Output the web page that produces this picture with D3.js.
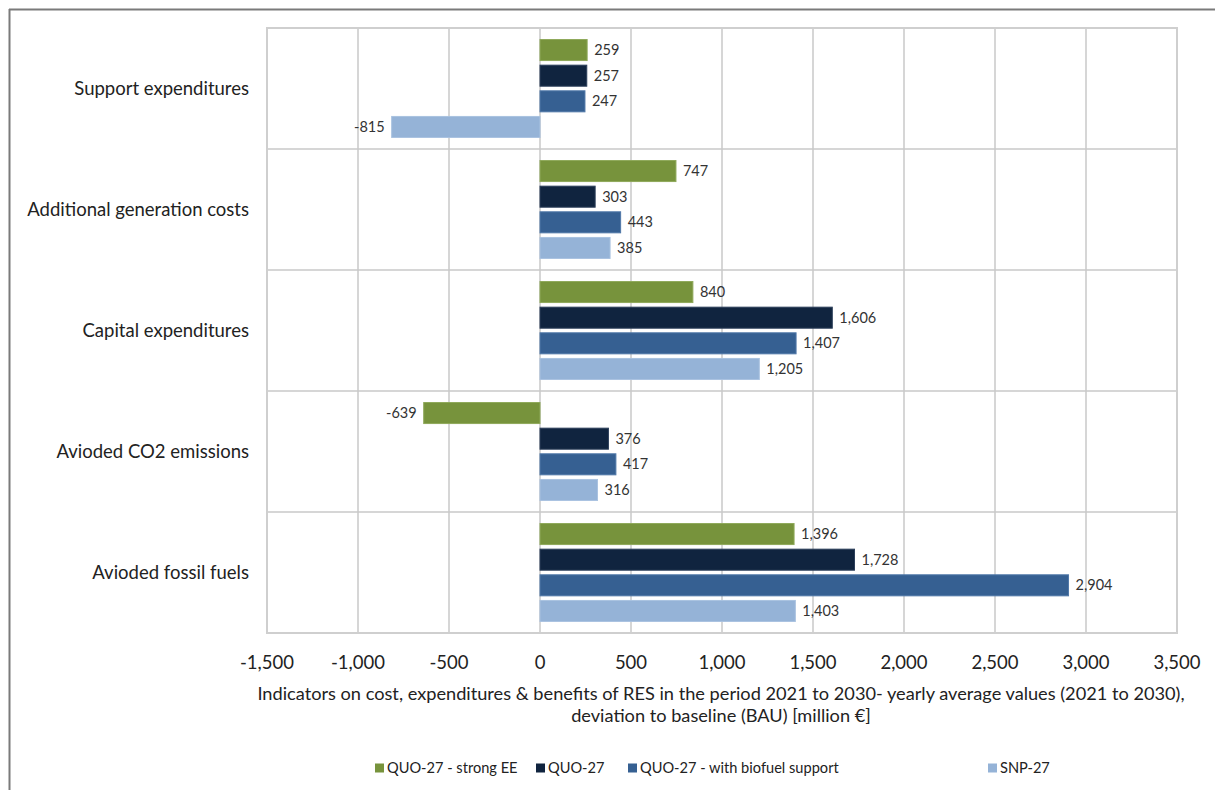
<!DOCTYPE html>
<html>
<head>
<meta charset="utf-8">
<script src="https://cdn.jsdelivr.net/npm/d3@7"></script>
<style>
  html, body { margin: 0; padding: 0; background: #fff; }
  svg { display: block; font-family: Lato, "Open Sans", sans-serif; }
</style>
</head>
<body>
<svg id="chart" width="1215" height="790"></svg>
<script>
// Indicator categories, top to bottom
const categories = [
  "Support expenditures",
  "Additional generation costs",
  "Capital expenditures",
  "Avioded CO2 emissions",
  "Avioded fossil fuels"
];

// Scenario names (legend order)
const seriesNames = [
  "QUO-27 - strong EE",
  "QUO-27",
  "QUO-27 - with biofuel support",
  "SNP-27"
];

// Values per scenario, in category order [million €]
const strongEE   = [259, 747, 840, -639, 1396];
const quo27      = [257, 303, 1606, 376, 1728];
const biofuel    = [247, 443, 1407, 417, 2904];
const snp27      = [-815, 385, 1205, 316, 1403];
const seriesValues = [strongEE, quo27, biofuel, snp27];

const seriesColors = ["#77933C", "#10243F", "#366092", "#95B3D7"];
const seriesStroke = ["#8fa95a", "#2c3f5a", "#5078a8", "#a9c2e0"];

// Axis ticks
const xTicks = [-1500, -1000, -500, 0, 500, 1000, 1500, 2000, 2500, 3000, 3500];

const axisTitle = [
  "Indicators on cost, expenditures & benefits of RES in the period 2021 to 2030- yearly average values (2021 to 2030),",
  "deviation to baseline (BAU) [million €]"
];

const svg = d3.select("#chart");
// thousands separator, plain hyphen for negatives
const fmt = v => d3.format(",")(v).replace("\u2212", "-");

// Outer frame (left and top edges)
svg.append("line").attr("x1", 9.5).attr("x2", 9.5).attr("y1", 9).attr("y2", 790)
  .attr("stroke", "#7a7a7a").attr("stroke-width", 2);
svg.append("line").attr("x1", 9).attr("x2", 1215).attr("y1", 9.5).attr("y2", 9.5)
  .attr("stroke", "#7a7a7a").attr("stroke-width", 2);

const plot = { left: 267, right: 1177, top: 28, bottom: 633 };

const x = d3.scaleLinear().domain([-1500, 3500]).range([plot.left, plot.right]);
const y = d3.scaleBand().domain(categories).range([plot.top, plot.bottom]).padding(0);
const ySub = d3.scaleBand().domain(d3.range(seriesNames.length))
  .range([0, y.bandwidth()]).paddingInner(0.18).paddingOuter(0.45);

const g = svg.append("g");

// Vertical gridlines
g.append("g").selectAll("line").data(xTicks).join("line")
  .attr("x1", d => x(d)).attr("x2", d => x(d))
  .attr("y1", plot.top).attr("y2", plot.bottom)
  .attr("stroke", "#c8c8c8").attr("stroke-width", 1.5);

// Horizontal category separators
g.append("g").selectAll("line").data(categories.slice(1)).join("line")
  .attr("x1", plot.left).attr("x2", plot.right)
  .attr("y1", d => y(d)).attr("y2", d => y(d))
  .attr("stroke", "#c8c8c8").attr("stroke-width", 1.5);

// Plot border
g.append("rect")
  .attr("x", plot.left).attr("y", plot.top)
  .attr("width", plot.right - plot.left).attr("height", plot.bottom - plot.top)
  .attr("fill", "none").attr("stroke", "#cfcfcf").attr("stroke-width", 2);

// Bars and value labels
const rows = [];
seriesValues.forEach((vals, si) => {
  vals.forEach((v, ci) => rows.push({ si, cat: categories[ci], v }));
});

g.append("g").selectAll("rect").data(rows).join("rect")
  .attr("x", d => x(Math.min(0, d.v)))
  .attr("y", d => y(d.cat) + ySub(d.si))
  .attr("width", d => Math.abs(x(d.v) - x(0)))
  .attr("height", ySub.bandwidth())
  .attr("fill", d => seriesColors[d.si])
  .attr("stroke", d => seriesStroke[d.si]).attr("stroke-width", 1);

g.append("g").selectAll("text").data(rows).join("text")
  .attr("x", d => d.v >= 0 ? x(d.v) + 7 : x(d.v) - 7)
  .attr("y", d => y(d.cat) + ySub(d.si) + ySub.bandwidth() / 2)
  .attr("dy", "0.35em")
  .attr("text-anchor", d => d.v >= 0 ? "start" : "end")
  .attr("font-size", 14.5).attr("fill", "#333")
  .text(d => fmt(d.v));

// Category labels
g.append("g").selectAll("text").data(categories).join("text")
  .attr("x", 249).attr("y", d => y(d) + y.bandwidth() / 2)
  .attr("dy", "0.35em").attr("text-anchor", "end")
  .attr("font-size", 18.5).attr("fill", "#222")
  .text(d => d);

// X tick labels
g.append("g").selectAll("text").data(xTicks).join("text")
  .attr("x", d => x(d)).attr("y", 663).attr("dy", "0.35em")
  .attr("text-anchor", "middle").attr("font-size", 18.5).attr("fill", "#222")
  .text(d => fmt(d));

// Axis title
g.append("g").selectAll("text").data(axisTitle).join("text")
  .attr("x", (plot.left + plot.right) / 2 - 1).attr("y", (d, i) => 694 + i * 22)
  .attr("dy", "0.35em").attr("text-anchor", "middle")
  .attr("font-size", 18.2).attr("fill", "#222")
  .text(d => d);

// Legend
const legendX = [375, 536, 628, 988];
const legend = g.append("g").selectAll("g").data(seriesNames).join("g")
  .attr("transform", (d, i) => `translate(${legendX[i]},768)`);
legend.append("rect").attr("x", 0).attr("y", -4.5).attr("width", 9).attr("height", 9)
  .attr("fill", (d, i) => seriesColors[i]);
legend.append("text").attr("x", 12).attr("y", 0).attr("dy", "0.35em")
  .attr("font-size", 14.6).attr("fill", "#222").text(d => d);
</script>
</body>
</html>
